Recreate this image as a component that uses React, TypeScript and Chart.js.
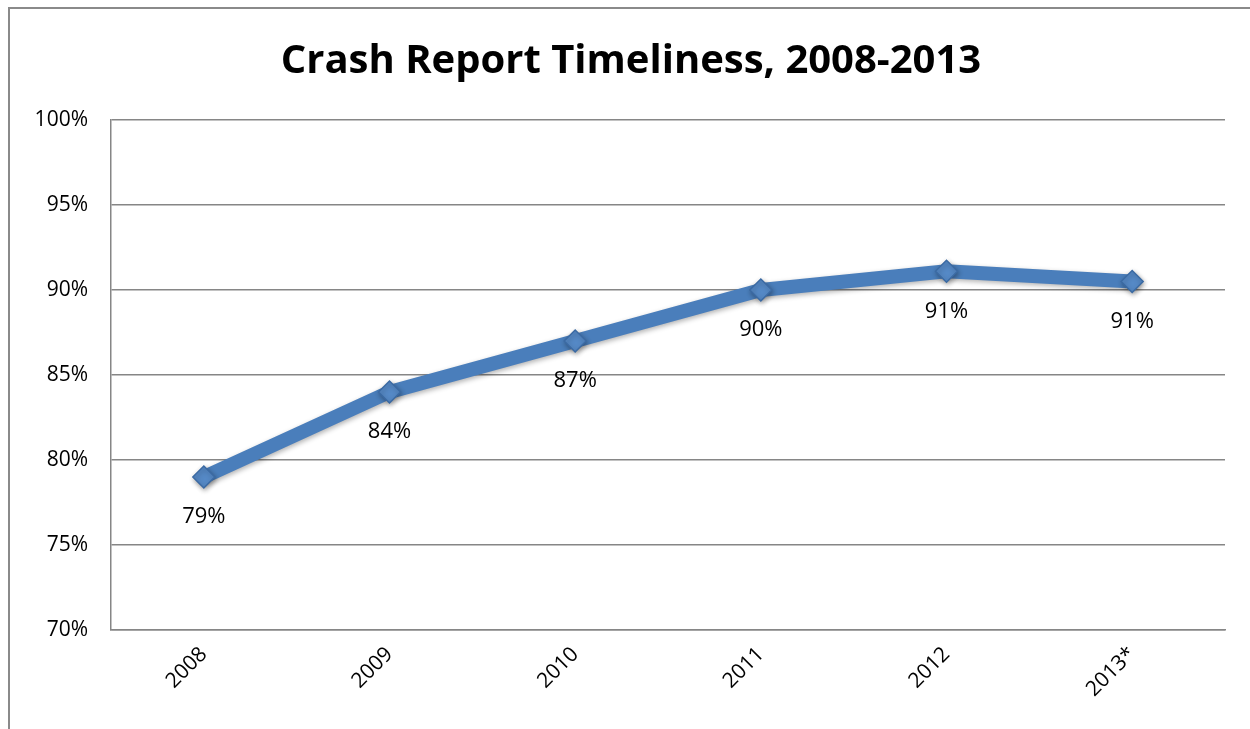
import React, { useEffect, useRef } from "react";
import { Chart, registerables } from "chart.js";

Chart.register(...registerables);

const categories = ["2008", "2009", "2010", "2011", "2012", "2013*"];
const timeliness = [79.0, 84.0, 87.0, 90.0, 91.1, 90.5];
const valueLabels = ["79%", "84%", "87%", "90%", "91%", "91%"];
const titleText = "Crash Report Timeliness, 2008-2013";

const FONT = "'Open Sans', 'Noto Sans', sans-serif";

const framePlugin = {
  id: "frame",
  beforeDraw(chart: any) {
    const ctx = chart.ctx;
    ctx.save();
    ctx.fillStyle = "#ffffff";
    ctx.fillRect(0, 0, chart.width, chart.height);
    ctx.strokeStyle = "#8a8a8a";
    ctx.lineWidth = 2;
    ctx.beginPath();
    ctx.moveTo(1260, 8);
    ctx.lineTo(9, 8);
    ctx.lineTo(9, 740);
    ctx.stroke();
    ctx.font = `bold 40px ${FONT}`;
    ctx.fillStyle = "#000000";
    ctx.textAlign = "center";
    ctx.textBaseline = "middle";
    ctx.fillText(titleText, 631, 62);
    ctx.restore();
  },
};

const labelPlugin = {
  id: "valueLabels",
  afterDatasetsDraw(chart: any) {
    const ctx = chart.ctx;
    const meta = chart.getDatasetMeta(0);
    ctx.save();
    ctx.font = `22px ${FONT}`;
    ctx.fillStyle = "#000000";
    ctx.textAlign = "center";
    ctx.textBaseline = "middle";
    meta.data.forEach((pt: any, i: number) => {
      ctx.fillText(valueLabels[i], pt.x, pt.y + 40);
    });
    ctx.restore();
  },
};

const shadowPlugin = {
  id: "shadow",
  beforeDatasetsDraw(chart: any) {
    const ctx = chart.ctx;
    ctx.save();
    ctx.shadowColor = "rgba(0,0,0,0.3)";
    ctx.shadowBlur = 5;
    ctx.shadowOffsetX = 1;
    ctx.shadowOffsetY = 2;
  },
  afterDatasetsDraw(chart: any) {
    chart.ctx.restore();
  },
};

export default function App() {
  const ref = useRef<HTMLCanvasElement>(null);
  useEffect(() => {
    if (!ref.current) return;
    const chart = new Chart(ref.current, {
      type: "line",
      data: {
        labels: categories,
        datasets: [
          {
            data: timeliness,
            borderColor: "#4a7ebb",
            borderWidth: 14,
            tension: 0,
            borderJoinStyle: "round",
            borderCapStyle: "round",
            pointStyle: "rectRot",
            pointRadius: 11,
            pointBackgroundColor: "#5589c6",
            pointBorderColor: "#3b6aa3",
            pointBorderWidth: 1.5,
          },
        ],
      },
      options: {
        responsive: false,
        animation: false,
        layout: { padding: { left: 0, right: 25, top: 120, bottom: 0 } },
        plugins: {
          legend: { display: false },
          tooltip: { enabled: false },
          title: { display: false },
        },
        scales: {
          x: {
            offset: true,
            grid: { display: false, drawTicks: false },
            border: { display: true, color: "#868686", width: 1.5 },
            ticks: {
              color: "#000000",
              font: { family: FONT, size: 21 },
              minRotation: 45,
              maxRotation: 45,
              padding: 12,
            },
            afterFit(scale: any) {
              scale.height = 99;
            },
          },
          y: {
            min: 70,
            max: 100,
            grid: { color: "#868686", lineWidth: 1.5, drawTicks: false },
            border: { display: true, color: "#868686", width: 1.5 },
            ticks: {
              stepSize: 5,
              color: "#000000",
              font: { family: FONT, size: 21 },
              padding: 23,
              callback: (v: any) => `${v}%`,
            },
            afterFit(scale: any) {
              scale.width = 111;
            },
          },
        },
      },
      plugins: [framePlugin, shadowPlugin, labelPlugin],
    });
    return () => chart.destroy();
  }, []);
  return (
    <div style={{ position: "fixed", left: 0, top: 0, width: 1250, height: 729 }}>
      <canvas ref={ref} width={1250} height={729} style={{ display: "block" }} />
    </div>
  );
}
